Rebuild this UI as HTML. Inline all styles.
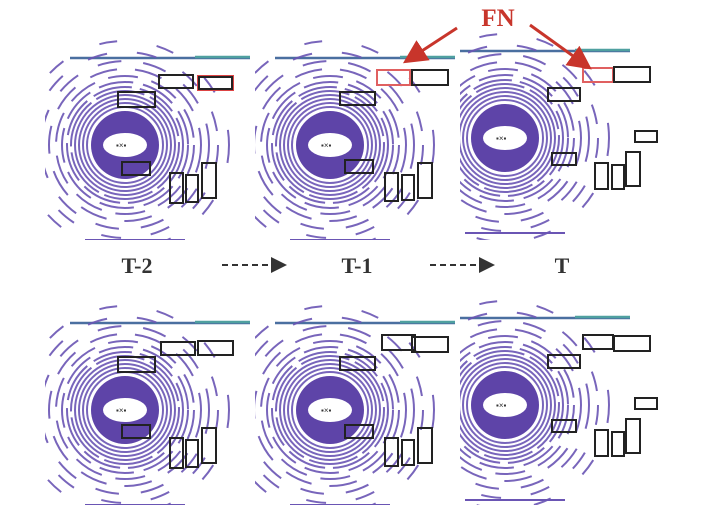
<!DOCTYPE html>
<html><head><meta charset="utf-8"><style>
html,body{margin:0;padding:0;background:#fff;width:720px;height:513px;overflow:hidden}
svg{display:block}
</style></head><body>
<svg width="720" height="513" viewBox="0 0 720 513">
<defs>
<clipPath id="c1"><rect x="45" y="25" width="205" height="215"/></clipPath>
<clipPath id="c2"><rect x="255" y="25" width="200" height="215"/></clipPath>
<clipPath id="c3"><rect x="460" y="25" width="205" height="215"/></clipPath>
<clipPath id="c4"><rect x="45" y="290" width="205" height="215"/></clipPath>
<clipPath id="c5"><rect x="255" y="290" width="200" height="215"/></clipPath>
<clipPath id="c6"><rect x="460" y="290" width="205" height="215"/></clipPath>
<marker id="ah" markerWidth="8" markerHeight="8" refX="6" refY="4" orient="auto"><path d="M0,0 L8,4 L0,8 z" fill="#c8352b"/></marker>
<marker id="ak" markerWidth="8" markerHeight="8" refX="6" refY="4" orient="auto"><path d="M0,0 L8,4 L0,8 z" fill="#333"/></marker>
<g id="scan">
    <line x1="-55" y1="-87" x2="125" y2="-87" stroke="#4a6fa0" stroke-width="2.5"/>
    <line x1="70" y1="-88" x2="125" y2="-88" stroke="#4fa0a0" stroke-width="2.5"/>
    <g fill="none" stroke="#6a55b4" stroke-width="2" opacity="0.9">
      <circle r="38"/><circle r="42"/><circle r="46"/><circle r="50"/><circle r="54" stroke-dasharray="50 6"/><circle r="58" stroke-dasharray="40 8"/>
      <circle r="63" stroke-dasharray="35 10"/><circle r="69" stroke-dasharray="30 14"/>
      <circle r="76" stroke-dasharray="28 18"/><circle r="84" stroke-dasharray="24 22"/><circle r="93" stroke-dasharray="20 30"/><circle r="104" stroke-dasharray="18 40"/>
    </g>
    <circle r="34" fill="#5e44a8"/>
    <ellipse cx="0" cy="0" rx="22" ry="12" fill="#fff"/>
    <text x="-9" y="3" font-size="8" fill="#333" font-family="Liberation Sans, sans-serif">▪×▪</text>
    <line x1="-40" y1="95" x2="60" y2="95" stroke="#6a55b4" stroke-width="2"/>
</g>
</defs>

<g clip-path="url(#c1)"><g transform="translate(125,145)">
  <use href="#scan"/>
  <g fill="none" stroke-width="2">
    <rect x="-7" y="-53" width="37" height="15" stroke="#222"/>
    <rect x="34" y="-70" width="34" height="13" stroke="#222"/>
    <rect x="73" y="-69" width="35" height="14" stroke="#d44"/><rect x="74" y="-68" width="33" height="12" stroke="#222"/>
    <rect x="-3" y="17" width="28" height="13" stroke="#222"/>
    <rect x="45" y="28" width="13" height="30" stroke="#222"/><rect x="61" y="30" width="12" height="27" stroke="#222"/><rect x="77" y="18" width="14" height="35" stroke="#222"/>
  </g>
</g></g>
<g clip-path="url(#c2)"><g transform="translate(330,145)">
  <use href="#scan"/>
  <g fill="none" stroke-width="2">
    <rect x="10" y="-53" width="35" height="13" stroke="#222"/>
    <rect x="47" y="-75" width="33" height="15" stroke="#e06060"/>
    <rect x="82" y="-75" width="36" height="15" stroke="#222"/>
    <rect x="15" y="15" width="28" height="13" stroke="#222"/>
    <rect x="55" y="28" width="13" height="28" stroke="#222"/><rect x="72" y="30" width="12" height="25" stroke="#222"/><rect x="88" y="18" width="14" height="35" stroke="#222"/>
  </g>
</g></g>
<g clip-path="url(#c3)"><g transform="translate(505,138)">
  <use href="#scan"/>
  <g fill="none" stroke-width="2">
    <rect x="43" y="-50" width="32" height="13" stroke="#222"/>
    <rect x="78" y="-70" width="30" height="14" stroke="#e06060"/>
    <rect x="109" y="-71" width="36" height="15" stroke="#222"/>
    <rect x="130" y="-7" width="22" height="11" stroke="#222"/>
    <rect x="47" y="15" width="24" height="12" stroke="#222"/>
    <rect x="90" y="25" width="13" height="26" stroke="#222"/><rect x="107" y="27" width="12" height="24" stroke="#222"/><rect x="121" y="14" width="14" height="34" stroke="#222"/>
  </g>
</g></g>

<g clip-path="url(#c4)"><g transform="translate(125,410)">
  <use href="#scan"/>
  <g fill="none" stroke-width="2">
    <rect x="-7" y="-53" width="37" height="15" stroke="#222"/>
    <rect x="36" y="-68" width="34" height="13" stroke="#222"/>
    <rect x="73" y="-69" width="35" height="14" stroke="#222"/>
    <rect x="-3" y="15" width="28" height="13" stroke="#222"/>
    <rect x="45" y="28" width="13" height="30" stroke="#222"/><rect x="61" y="30" width="12" height="27" stroke="#222"/><rect x="77" y="18" width="14" height="35" stroke="#222"/>
  </g>
</g></g>
<g clip-path="url(#c5)"><g transform="translate(330,410)">
  <use href="#scan"/>
  <g fill="none" stroke-width="2">
    <rect x="10" y="-53" width="35" height="13" stroke="#222"/>
    <rect x="52" y="-75" width="33" height="15" stroke="#222"/>
    <rect x="82" y="-73" width="36" height="15" stroke="#222"/>
    <rect x="15" y="15" width="28" height="13" stroke="#222"/>
    <rect x="55" y="28" width="13" height="28" stroke="#222"/><rect x="72" y="30" width="12" height="25" stroke="#222"/><rect x="88" y="18" width="14" height="35" stroke="#222"/>
  </g>
</g></g>
<g clip-path="url(#c6)"><g transform="translate(505,405)">
  <use href="#scan"/>
  <g fill="none" stroke-width="2">
    <rect x="43" y="-50" width="32" height="13" stroke="#222"/>
    <rect x="78" y="-70" width="30" height="14" stroke="#222"/>
    <rect x="109" y="-69" width="36" height="15" stroke="#222"/>
    <rect x="130" y="-7" width="22" height="11" stroke="#222"/>
    <rect x="47" y="15" width="24" height="12" stroke="#222"/>
    <rect x="90" y="25" width="13" height="26" stroke="#222"/><rect x="107" y="27" width="12" height="24" stroke="#222"/><rect x="121" y="14" width="14" height="34" stroke="#222"/>
  </g>
</g></g>

<g font-family="Liberation Serif, serif" font-weight="bold" fill="#333" font-size="22">
  <text x="137" y="273" text-anchor="middle">T-2</text>
  <text x="357" y="273" text-anchor="middle">T-1</text>
  <text x="562" y="273" text-anchor="middle">T</text>
</g>
<line x1="222" y1="265" x2="283" y2="265" stroke="#333" stroke-width="2" stroke-dasharray="6 4" marker-end="url(#ak)"/>
<line x1="430" y1="265" x2="491" y2="265" stroke="#333" stroke-width="2" stroke-dasharray="6 4" marker-end="url(#ak)"/>

<text x="498" y="26" text-anchor="middle" font-family="Liberation Serif, serif" font-weight="bold" font-size="25" fill="#c8352b">FN</text>
<line x1="457" y1="28" x2="408" y2="60" stroke="#c8352b" stroke-width="3" marker-end="url(#ah)"/>
<line x1="530" y1="25" x2="587" y2="66" stroke="#c8352b" stroke-width="3" marker-end="url(#ah)"/>
</svg>
</body></html>
